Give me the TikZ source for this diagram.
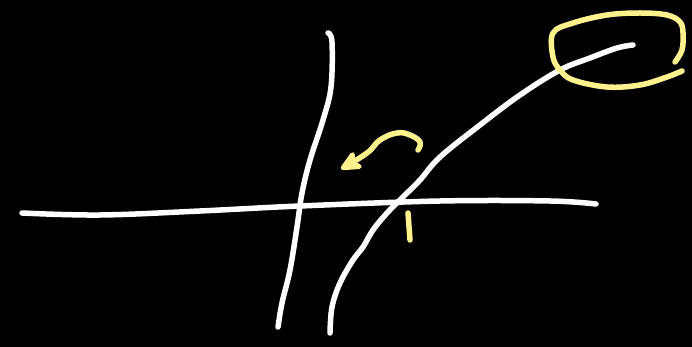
\documentclass[tikz,border=0pt]{standalone}
\usepackage{tikz}
\usetikzlibrary{arrows.meta}

\begin{document}
\begin{tikzpicture}[
  x=1pt,y=-1pt,
  chalk/.style={draw=white,line width=5.5pt,line cap=round,line join=round},
  hilite/.style={draw=penyellow,line width=5.5pt,line cap=round,line join=round},
  arr/.style={-{Stealth[length=26pt,width=24pt,inset=7pt,round]}}
]
\definecolor{penyellow}{RGB}{255,242,140}
\fill[black] (0,0) rectangle (692,347);
\useasboundingbox (0,0) rectangle (692,347);

% axes
\draw[chalk] plot[smooth,tension=0.6] coordinates {(22,213) (100,215) (200,211) (300,206) (440,201) (550,201) (596,204)};
\draw[chalk] plot[smooth,tension=0.6] coordinates {(328,33) (332,42) (331,87) (323,120) (310,160) (302,193) (297,227) (290,270) (282,303) (278,327)};

% curve
\draw[chalk] plot[smooth,tension=0.6] coordinates {(330,333) (332,307) (340,283) (353,260) (363,247) (373,230) (387,213) (403,197) (420,180) (440,157) (480,125) (520,95) (560,70) (590,58) (617,48) (633,45)};

% highlight round the end
\draw[hilite] plot[smooth,tension=0.6] coordinates {(675,62) (682,50) (683,33) (680,22) (667,15) (640,13) (607,15) (573,23) (553,33) (553,57) (560,70) (573,80) (607,87) (640,85) (667,77) (682,71)};

% turning arrow
\draw[hilite,arr] plot[smooth,tension=0.7] coordinates {(418,150) (420,142) (410,135) (397,133) (380,140) (367,153) (341,169)};

% mark at 1
\draw[hilite] (408,213) -- (410,240);
\end{tikzpicture}
\end{document}
